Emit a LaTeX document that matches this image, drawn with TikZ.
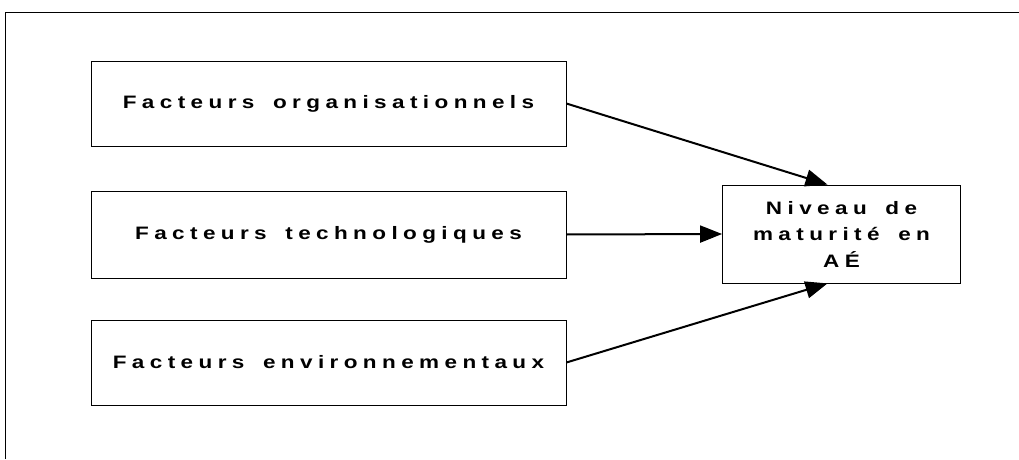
\documentclass[tikz,border=0pt]{standalone}
\usepackage{fontspec}
\setmainfont{Liberation Sans}
\newfontfamily\spacedfont[LetterSpace=30,WordSpace=1.6,FakeStretch=1.25]{Liberation Sans}
\usetikzlibrary{arrows.meta}

\tikzset{
  facteur/.style={draw, line width=0.8pt, minimum width=475pt, minimum height=85pt,
    inner sep=0pt, font=\spacedfont\bfseries\fontsize{18}{26.5}\selectfont},
  fleche/.style={line width=2pt, -{Triangle[length=22pt,width=17pt]}}
}

\begin{document}
\begin{tikzpicture}[x=1pt,y=1pt]
  \useasboundingbox (0,0) rectangle (1019,459);
  % outer frame (cut at right and bottom)
  \draw[line width=0.8pt] (5,0) -- (5,447) -- (1019,447);
  % factor boxes
  \node[facteur] (orga) at (328.5,355.5) {Facteurs organisationnels};
  \node[facteur, minimum height=87pt] (techno) at (328.5,224.5) {Facteurs technologiques};
  \node[facteur] (envir) at (328.5,96.5) {Facteurs environnementaux};
  % target box
  \node[facteur, minimum width=238pt, minimum height=98pt, align=center] (niveau) at (841.5,225)
    {Niveau de\\maturité en\\AÉ};
  % arrows
  \draw[fleche] (orga.east) -- ([xshift=-14pt]niveau.north);
  \draw[fleche] (techno.east) -- (niveau.west);
  \draw[fleche] (envir.east) -- ([xshift=-14pt]niveau.south);
\end{tikzpicture}
\end{document}
